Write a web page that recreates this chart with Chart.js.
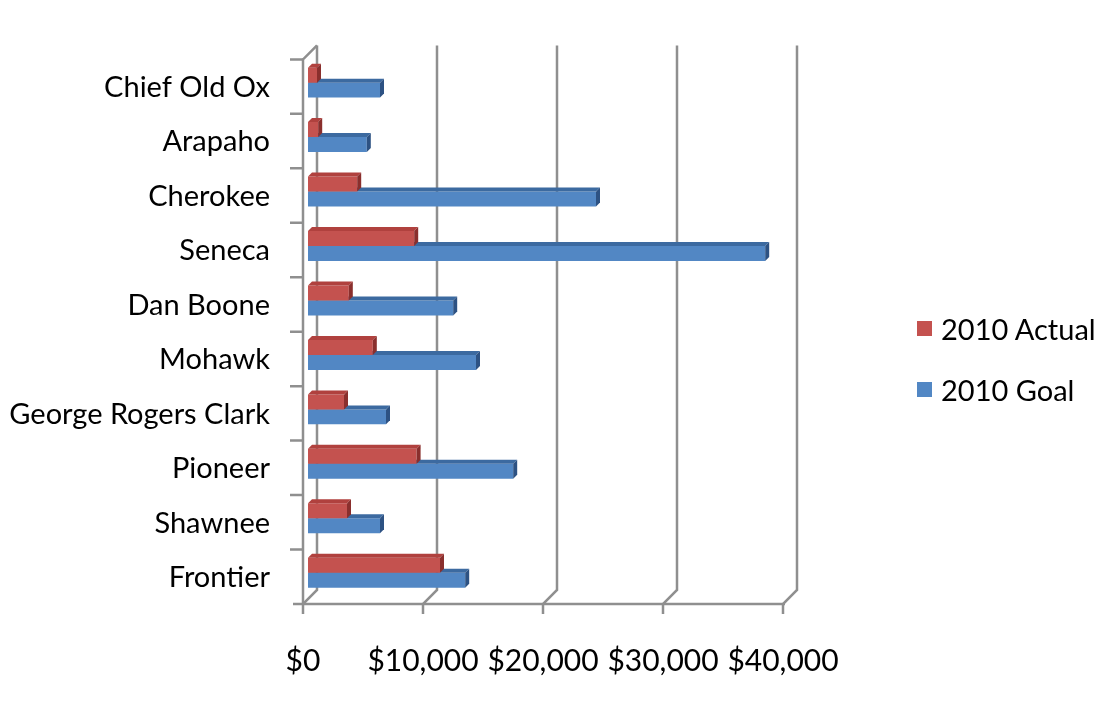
<!DOCTYPE html>
<html>
<head>
<meta charset="utf-8">
<script src="https://cdn.jsdelivr.net/npm/chart.js@4.4.1/dist/chart.umd.min.js"></script>
<style>
    html, body { margin: 0; padding: 0; background: #fff; }
    #wrap { position: relative; width: 1117px; height: 719px; }
    #legend { position: absolute; left: 917px; top: 298px; font-family: Lato, sans-serif; font-size: 29px; color: #000; }
    .item { display: flex; align-items: center; height: 61px; white-space: nowrap; }
    .swatch { width: 15px; height: 15px; margin-right: 9px; }
</style>
</head>
<body>
<div id="wrap">
    <canvas id="chart" width="1117" height="719"></canvas>
    <div id="legend"></div>
</div>
<script>
// Data
const categories = ['Chief Old Ox', 'Arapaho', 'Cherokee', 'Seneca', 'Dan Boone', 'Mohawk', 'George Rogers Clark', 'Pioneer', 'Shawnee', 'Frontier'];
const actual2010 = [750, 850, 4100, 8850, 3400, 5400, 3000, 9050, 3250, 11000];
const goal2010 = [6000, 4900, 24000, 38100, 12100, 14000, 6500, 17100, 6000, 13100];
const xTicks = [0, 10000, 20000, 30000, 40000];

// Look of the fake 3D box
const FRONT = { x: -5, y: 4 };
const BACK = { x: 9, y: -10 };
const BAR_DEPTH = { x: 4, y: 4 };
const gridColor = '#8f8f8f';
const faces = [
    { front: '#c4524f', top: '#b0413e', side: '#8a2f2d' },
    { front: '#5287c4', top: '#3c6aa0', side: '#2d5283' }
];

const depthPlugin = {
    id: 'depth',
    beforeDatasetsDraw(chart) {
        const { ctx, chartArea: a, scales: { x } } = chart;
        const fy = a.bottom + FRONT.y;
        const by = a.bottom + BACK.y;
        const ty = a.top + BACK.y;
        ctx.save();
        ctx.strokeStyle = gridColor;
        ctx.lineWidth = 2.5;

        // back wall grid lines, dropping to the front floor edge
        xTicks.forEach(v => {
            const px = x.getPixelForValue(v);
            ctx.beginPath();
            ctx.moveTo(px + BACK.x, ty);
            ctx.lineTo(px + BACK.x, by);
            ctx.lineTo(px + FRONT.x, fy);
            ctx.lineTo(px + FRONT.x, fy + 10);
            ctx.stroke();
        });

        // front floor edge
        const x0 = x.getPixelForValue(xTicks[0]) + FRONT.x;
        const x1 = x.getPixelForValue(xTicks[xTicks.length - 1]) + FRONT.x;
        ctx.beginPath();
        ctx.moveTo(x0 - 10, fy);
        ctx.lineTo(x1 + 2, fy);
        ctx.stroke();

        // left wall front edge
        ctx.beginPath();
        ctx.moveTo(x0 + BACK.x - FRONT.x, ty);
        ctx.lineTo(x0, a.top + FRONT.y);
        ctx.lineTo(x0, fy);
        ctx.stroke();

        // category tick marks
        const band = (a.bottom - a.top) / categories.length;
        ctx.beginPath();
        for (let k = 0; k < categories.length; k++) {
            const yy = a.top + FRONT.y + k * band;
            ctx.moveTo(x0 - 13, yy);
            ctx.lineTo(x0, yy);
        }
        ctx.stroke();
        ctx.restore();
    },
    afterDatasetDraw(chart, args) {
        const ctx = chart.ctx;
        const f = faces[args.index];
        ctx.save();
        args.meta.data.forEach(bar => {
            const { x: xe, base, y, height } = bar.getProps(['x', 'base', 'y', 'height'], true);
            const top = y - height / 2;
            const bot = y + height / 2;
            // top face
            ctx.fillStyle = f.top;
            ctx.beginPath();
            ctx.moveTo(base, top);
            ctx.lineTo(xe, top);
            ctx.lineTo(xe + BAR_DEPTH.x, top - BAR_DEPTH.y);
            ctx.lineTo(base + BAR_DEPTH.x, top - BAR_DEPTH.y);
            ctx.closePath();
            ctx.fill();
            // end face
            ctx.fillStyle = f.side;
            ctx.beginPath();
            ctx.moveTo(xe, top);
            ctx.lineTo(xe + BAR_DEPTH.x, top - BAR_DEPTH.y);
            ctx.lineTo(xe + BAR_DEPTH.x, bot - BAR_DEPTH.y);
            ctx.lineTo(xe, bot);
            ctx.closePath();
            ctx.fill();
        });
        ctx.restore();
    }
};

const chart = new Chart(document.getElementById('chart'), {
    type: 'bar',
    data: {
        labels: categories,
        datasets: [
            {
                label: '2010 Actual',
                data: actual2010,
                backgroundColor: faces[0].front,
                categoryPercentage: 0.55,
                barPercentage: 1
            },
            {
                label: '2010 Goal',
                data: goal2010,
                backgroundColor: faces[1].front,
                categoryPercentage: 0.55,
                barPercentage: 1
            }
        ]
    },
    options: {
        indexAxis: 'y',
        responsive: false,
        maintainAspectRatio: false,
        animation: false,
        devicePixelRatio: 1,
        layout: {
            padding: { left: 0, top: 54.5, right: 329, bottom: 0 }
        },
        plugins: {
            legend: { display: false },
            tooltip: { enabled: false }
        },
        scales: {
            x: {
                min: 0,
                max: 40000,
                grid: { display: false, drawTicks: false },
                border: { display: false },
                afterBuildTicks: s => { s.ticks = xTicks.map(v => ({ value: v })); },
                afterFit: s => { s.height = 119; },
                ticks: {
                    color: '#000',
                    font: { family: 'Lato', size: 30 },
                    padding: 43,
                    labelOffset: FRONT.x,
                    maxRotation: 0,
                    callback: v => '$' + v.toLocaleString('en-US')
                }
            },
            y: {
                grid: { display: false, drawTicks: false },
                border: { display: false },
                afterFit: s => { s.width = 308; },
                ticks: {
                    color: '#000',
                    font: { family: 'Lato', size: 29 },
                    padding: 38,
                    labelOffset: 5
                }
            }
        }
    },
    plugins: [depthPlugin]
});

// Legend
const legend = document.getElementById('legend');
chart.data.datasets.forEach(ds => {
    const item = document.createElement('div');
    item.className = 'item';
    const sw = document.createElement('span');
    sw.className = 'swatch';
    sw.style.background = ds.backgroundColor;
    const txt = document.createElement('span');
    txt.textContent = ds.label;
    item.appendChild(sw);
    item.appendChild(txt);
    legend.appendChild(item);
});
</script>
</body>
</html>
